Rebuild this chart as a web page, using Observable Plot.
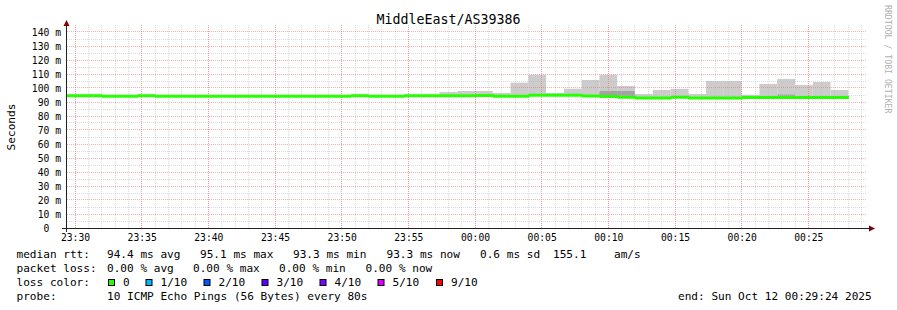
<!DOCTYPE html>
<html><head><meta charset="utf-8">
<script src="https://cdn.jsdelivr.net/npm/d3@7"></script>
<script src="https://cdn.jsdelivr.net/npm/@observablehq/plot@0.6"></script>
<style>
html,body{margin:0;padding:0;background:#fff;}
#chart{width:897px;height:310px;overflow:hidden;}
svg text{white-space:pre;}
</style></head><body><div id="chart"></div>
<script>
const chartTitle = "MiddleEast/AS39386";
const yAxisLabel = "Seconds";
const watermark = "RRDTOOL / TOBI OETIKER";
const firstStep = "2025-10-11T23:29:20Z";
const stepSeconds = 80;
const viewStart = "2025-10-11T23:29:24Z";
const viewEnd = "2025-10-12T00:29:24Z";

// median rtt per 80 s step (ms)
const median = [94.9,94.9,94.4,94.4,94.9,94.4,94.4,94.4,94.4,94.4,94.4,94.4,94.4,94.4,94.4,94.4,94.9,94.4,94.4,94.8,94.8,94.8,94.8,95.0,94.4,94.4,95.1,95.1,95.1,94.6,94.3,93.8,93.3,93.3,93.8,93.3,93.3,93.3,93.5,93.5,93.5,93.5,93.5,93.5];
// smoke (highest / lowest ping per step, ms)
const smokeHi = [95.4,95.4,94.9,94.9,95.4,94.9,94.9,94.9,94.9,94.9,94.9,94.9,94.9,94.9,94.9,94.9,95.4,94.9,94.9,95.3,95.3,97.1,97.9,97.9,96.5,103.8,109.5,96.5,99.5,105.7,109.5,101.4,95.7,98.6,99.4,95.7,105.0,105.0,95.2,102.9,106.4,102.1,104.3,98.6];
const smokeLo = [94.5,94.5,94.0,94.0,94.5,94.0,94.0,94.0,94.0,94.0,94.0,94.0,94.0,94.0,94.0,94.0,94.5,94.0,94.0,94.4,94.4,94.4,94.4,94.6,94.0,94.0,94.7,94.7,94.7,94.2,93.9,93.4,92.9,92.9,93.4,92.9,92.9,92.9,93.1,93.1,93.1,93.1,93.1,93.1];
// darker inner smoke band
const innerSteps = [30,31,40];
const innerHi = [97.9,97.9,95.3];

const yTicks = [0,10,20,30,40,50,60,70,80,90,100,110,120,130,140];
const yMinorTicks = [5,15,25,35,45,55,65,75,85,95,105,115,125,135];

const rttLabel = "median rtt:";
const rttStats = ["94.4 ms avg","95.1 ms max","93.3 ms min","93.3 ms now","0.6 ms sd","155.1","am/s"];
const lossLabel = "packet loss:";
const lossStats = ["0.00 % avg","0.00 % max","0.00 % min","0.00 % now"];
const colorLabel = "loss color:";
const lossNames = ["0","1/10","2/10","3/10","4/10","5/10","9/10"];
const lossColors = ["#26ff00","#00b8ff","#0059ff","#5e00ff","#7e00ff","#dd00ff","#ff0000"];
const probeLabel = "probe:";
const probeText = "10 ICMP Echo Pings (56 Bytes) every 80s";
const endText = "end: Sun Oct 12 00:29:24 2025";

const t0 = new Date(firstStep).getTime();
const rows = median.map((m, i) => ({
  t0: new Date(t0 + i * stepSeconds * 1000),
  t1: new Date(t0 + (i + 1) * stepSeconds * 1000),
  median: m, lo: smokeLo[i], hi: smokeHi[i]
}));
const innerRows = innerSteps.map((s, j) => ({t0: rows[s].t0, t1: rows[s].t1, lo: rows[s].lo, hi: innerHi[j]}));
const lineRows = rows.map(r => ({t: r.t0, v: r.median}));
lineRows.push({t: rows[rows.length - 1].t1, v: median[median.length - 1]});

const xStart = new Date(viewStart), xEnd = new Date(viewEnd);
const xMinor = d3.utcMinute.range(xStart, xEnd);
const xMajor = d3.utcMinute.every(5).range(xStart, xEnd);
const fmt = d3.utcFormat("%H:%M");

const gridC = "rgba(191,191,191,0.55)";
const mgridC = "rgba(240,110,110,0.55)";
const axisC = "#212121";
const arrowC = "#800000";
const mono = "'DejaVu Sans Mono', monospace";

const svg = Plot.plot({
  width: 897, height: 310,
  marginLeft: 67, marginRight: 30, marginTop: 25, marginBottom: 82,
  style: {fontFamily: mono, background: "#fff", overflow: "visible"},
  x: {type: "utc", domain: [xStart, xEnd], axis: null},
  y: {domain: [0, 145], axis: null},
  marks: [
    Plot.rect(rows, {x1: "t0", x2: "t1", y1: "lo", y2: "hi", fill: "#cccccc", clip: true}),
    Plot.rect(innerRows, {x1: "t0", x2: "t1", y1: "lo", y2: "hi", fill: "#a3a3a3", clip: true}),
    Plot.ruleY(yMinorTicks, {stroke: gridC, strokeDasharray: "1,1", className: "grid"}),
    Plot.ruleX(xMinor, {stroke: gridC, strokeDasharray: "1,1", className: "grid"}),
    Plot.ruleY(yTicks.filter(d => d > 0), {stroke: mgridC, strokeDasharray: "1,1", className: "grid"}),
    Plot.ruleX(xMajor, {stroke: mgridC, strokeDasharray: "1,1", className: "grid"}),
    Plot.lineY(lineRows, {x: "t", y: "v", curve: "step-after", stroke: lossColors[0], strokeWidth: 3, strokeLinecap: "butt", strokeLinejoin: "miter", clip: true}),
    Plot.text(yTicks, {y: d => d, text: d => d === 0 ? "0\u00a0\u00a0" : d + " m", frameAnchor: "left", textAnchor: "end", dx: -6.5, fontSize: 9.7, fill: "#000"}),
    Plot.text(xMajor, {x: d => d, text: d => fmt(d), frameAnchor: "bottom", lineAnchor: "middle", dy: 9, fontSize: 9.7, fill: "#000"})
  ]
});

const s = d3.select(svg);
// snap grid lines to whole pixels (crisp 1px dotted lines)
s.selectAll("g.grid line").each(function() {
  const l = d3.select(this);
  ["x1","x2","y1","y2"].forEach(a => { const v = l.attr(a); if (v != null) l.attr(a, Math.floor(+v)); });
});
// axes
s.append("line").attr("x1", 62).attr("x2", 870).attr("y1", 228.5).attr("y2", 228.5).attr("stroke", axisC);
s.append("line").attr("x1", 66.5).attr("x2", 66.5).attr("y1", 232).attr("y2", 24).attr("stroke", axisC);
s.append("path").attr("d", "M66.5,20 L63.5,26 L69.5,26 Z").attr("fill", arrowC);
s.append("path").attr("d", "M875,228.5 L869,225.5 L869,231.5 Z").attr("fill", arrowC);

// title & labels
s.append("text").attr("x", 448.5).attr("y", 23.5).attr("text-anchor", "middle")
  .attr("font-size", 13.3).attr("font-family", mono).attr("fill", "#000").text(chartTitle);
s.append("text").attr("transform", "translate(15,127) rotate(-90)").attr("text-anchor", "middle")
  .attr("font-size", 11.1).attr("font-family", mono).attr("fill", "#000").text(yAxisLabel);
s.append("text").attr("transform", "translate(884.5,5) rotate(90)").attr("text-anchor", "start")
  .attr("font-size", 8.2).attr("font-family", mono).attr("fill", "#b0b0b0").text(watermark);

// legend
const lg = (x, y, t) => s.append("text").attr("x", x).attr("y", y).attr("font-size", 11.1)
  .attr("text-anchor", "start").attr("font-family", mono).attr("fill", "#000").text(t);
const rowY = [257.5, 271.5, 285.5, 299.5];
lg(16.5, rowY[0], rttLabel);
[107, 200, 293, 386.5, 480, 553, 614].forEach((x, i) => lg(x, rowY[0], rttStats[i]));
lg(16.5, rowY[1], lossLabel);
[107, 193, 279, 365.5].forEach((x, i) => lg(x, rowY[1], lossStats[i]));
lg(16.5, rowY[2], colorLabel);
[108, 145.5, 203.5, 261.5, 319.5, 377.5, 436].forEach((x, i) => {
  s.append("rect").attr("x", x + 0.5).attr("y", 279.5).attr("width", 6).attr("height", 6)
    .attr("fill", lossColors[i]).attr("stroke", "#000");
  lg(x + 15, rowY[2], lossNames[i]);
});
lg(16.5, rowY[3], probeLabel);
lg(107, rowY[3], probeText);
lg(678, rowY[3], endText);

document.getElementById("chart").appendChild(svg);
</script></body></html>
